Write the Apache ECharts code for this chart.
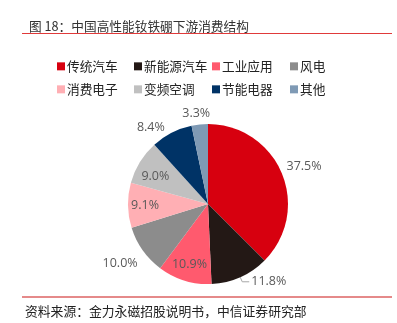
<!DOCTYPE html>
<html><head><meta charset="utf-8">
<script src="https://cdn.jsdelivr.net/npm/echarts@6/dist/echarts.min.js"></script>
<style>html,body{margin:0;padding:0;background:#fff}#c{width:397px;height:323px}</style>
</head><body><div id="c"></div>
<script>
const categories = ['传统汽车','新能源汽车','工业应用','风电','消费电子','变频空调','节能电器','其他'];
const values = [37.5, 11.8, 10.9, 10.0, 9.1, 9.0, 8.4, 3.3];
const colors = ['#D7000F','#231815','#FF5A6E','#8C8C8C','#FFAFB4','#C0C0C0','#003366','#7F9AB5'];
const insideLabels = ['工业应用','消费电子','变频空调'];
const titleText = '图 18：中国高性能钕铁硼下游消费结构';
const sourceText = '资料来源：金力永磁招股说明书，中信证券研究部';

const FONT = '"Noto Sans CJK SC", "Noto Sans", sans-serif';
const LABFONT = '"Open Sans", "Liberation Sans", sans-serif';
const chart = echarts.init(document.getElementById('c'), null, {renderer:'canvas'});

const labelAdjust = {
  '传统汽车': [-10, -5],
  '风电': [9, 10],
  '节能电器': [14, -7],
  '其他': [21, -6],
  '变频空调': [1, 6]
};
const layoutFn = function(p){
  const a = labelAdjust[categories[p.dataIndex]];
  return a ? {dx: a[0], dy: a[1]} : {};
};

const mainData = categories.map((c, i) => ({
  name: c, value: values[i],
  itemStyle: {color: colors[i]},
  label: {show: insideLabels.indexOf(c) < 0},
  labelLine: c === '新能源汽车' ? {show: true, length: 5, length2: 7} : {show: false}
}));
const overlayData = categories.map((c, i) => ({
  name: c, value: values[i],
  label: {show: insideLabels.indexOf(c) >= 0}
}));

const colX = [52, 129, 207, 285];
const legends = categories.map((c, i) => ({
  data: [c], left: colX[i % 4], top: 55 + Math.floor(i / 4) * 23,
  icon: 'rect', itemWidth: 8, itemHeight: 8, selectedMode: false,
  textStyle: {fontFamily: FONT, fontSize: 12.7, color: '#222', padding:[0,0,0,-3]}
}));

chart.setOption({
  animation: false,
  title: {
    text: titleText, left: 24, top: 15,
    textStyle: {fontFamily: FONT, fontSize: 12.7, fontWeight: 'normal', color: '#333'}
  },
  legend: legends,
  graphic: [
    {type:'line', shape:{x1:22,y1:33.5,x2:392,y2:33.5}, style:{stroke:'#E03A3A', lineWidth:1.2}},
    {type:'line', shape:{x1:22,y1:297,x2:392,y2:297}, style:{stroke:'#E58A8A', lineWidth:2}},
    {type:'text', left: 25, top: 305, style:{text: sourceText, font: '12.8px ' + FONT, fill:'#222'}}
  ],
  series: [
    {
      type: 'pie', radius: [0, 80], center: [208, 204],
      startAngle: 90, clockwise: true,
      data: mainData,
      itemStyle: {borderWidth: 0},
      label: {position:'outside', formatter: p => p.value.toFixed(1) + '%',
              fontFamily: LABFONT, fontSize: 12.5, color: '#595959', distanceToLabelLine: 2},
      labelLine: {length: 5, length2: 8, lineStyle:{color:'#A6A6A6', width:1}},
      labelLayout: layoutFn,
      emphasis: {disabled: true}
    },
    {
      type: 'pie', radius: [40, 80], center: [208, 204],
      startAngle: 90, clockwise: true, silent: true,
      data: overlayData,
      itemStyle: {color: 'rgba(0,0,0,0)'},
      label: {position:'inside', formatter: p => p.value.toFixed(1) + '%',
              fontFamily: LABFONT, fontSize: 12.5, color: '#595959'},
      labelLine: {show:false},
      labelLayout: layoutFn,
      emphasis: {disabled: true},
      tooltip: {show:false}
    }
  ]
});
</script></body></html>
